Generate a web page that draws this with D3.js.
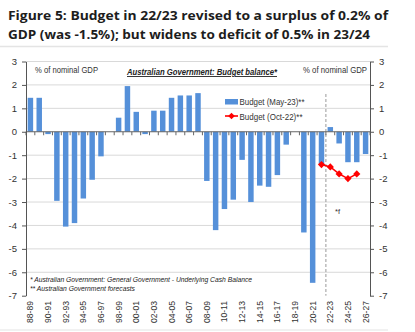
<!DOCTYPE html>
<html>
<head>
<meta charset="utf-8">
<script src="https://cdn.jsdelivr.net/npm/d3@7"></script>
<style>
  html, body { margin: 0; padding: 0; background: #fff; }
  svg { display: block; }
  text { font-family: "Liberation Sans", Arial, sans-serif; fill: #222; }
</style>
</head>
<body>
<svg id="chart" width="415" height="332"></svg>
<script>
// Financial years shown on the category axis
const years = ["88-89","89-90","90-91","91-92","92-93","93-94","94-95","95-96","96-97","97-98",
               "98-99","99-00","00-01","01-02","02-03","03-04","04-05","05-06","06-07","07-08",
               "08-09","09-10","10-11","11-12","12-13","13-14","14-15","15-16","16-17","17-18",
               "18-19","19-20","20-21","21-22","22-23","23-24","24-25","25-26","26-27"];

// Underlying cash balance, % of nominal GDP (May-23 budget, outcomes + forecasts)
const budgetMay23 = [1.45, 1.45, -0.1, -2.95, -4.05, -3.9, -2.85, -2.05, -1.05, 0.0,
                     0.6, 1.95, 0.85, -0.1, 0.9, 0.9, 1.45, 1.55, 1.55, 1.65,
                     -2.1, -4.2, -3.3, -2.9, -1.2, -3.0, -2.3, -2.35, -1.85, -0.55,
                     0.0, -4.3, -6.45, -1.4, 0.2, -0.5, -1.3, -1.3, -0.95];

// Oct-22 budget path
const oct22Years = ["21-22","22-23","23-24","24-25","25-26"];
const budgetOct22 = [-1.4, -1.5, -1.8, -2.0, -1.8];

const yTicks = [-7, -6, -5, -4, -3, -2, -1, 0, 1, 2, 3];
const gridTicks = [-6, -5, -4, -3, -2, -1, 1, 2, 3];

const svg = d3.select("#chart");
const plotLeft = 26, plotRight = 370, plotTop = 61.5, plotBottom = 295.7;

const x = d3.scaleBand().domain(years).range([plotLeft, plotRight]).paddingInner(0.38).paddingOuter(0.19);
const y = d3.scaleLinear().domain([-7, 3]).range([plotBottom, plotTop]);
const cx = d => x(d) + x.bandwidth() / 2;

// Title
const title = svg.append("g").attr("font-weight", "bold");
title.append("text").attr("x", 8).attr("y", 20)
  .style("font-family", "'Open Sans', 'Noto Sans', sans-serif")
  .attr("font-size", 13.2).attr("textLength", 380).attr("lengthAdjust", "spacingAndGlyphs")
  .style("fill", "#1d1d1d")
  .text("Figure 5: Budget in 22/23 revised to a surplus of 0.2% of");
title.append("text").attr("x", 8).attr("y", 38.5)
  .style("font-family", "'Open Sans', 'Noto Sans', sans-serif")
  .attr("font-size", 13.2).attr("textLength", 362).attr("lengthAdjust", "spacingAndGlyphs")
  .style("fill", "#1d1d1d")
  .text("GDP (was -1.5%); but widens to deficit of 0.5% in 23/24");
svg.append("line").attr("x1", 0).attr("x2", 388).attr("y1", 46.5).attr("y2", 46.5)
  .attr("stroke", "#e4e4e4").attr("stroke-width", 1.5);
svg.append("line").attr("x1", 0).attr("x2", 388).attr("y1", 330).attr("y2", 330)
  .attr("stroke", "#ececec").attr("stroke-width", 1.5);

// Gridlines
svg.append("g").selectAll("line").data(gridTicks).join("line")
  .attr("x1", plotLeft).attr("x2", plotRight)
  .attr("y1", d => y(d)).attr("y2", d => y(d))
  .attr("stroke", "#d9d9d9").attr("stroke-width", 1);

// Bars
svg.append("g").selectAll("rect").data(years.map((k, i) => ({k, v: budgetMay23[i]})))
  .join("rect")
  .attr("x", d => x(d.k))
  .attr("width", x.bandwidth())
  .attr("y", d => y(Math.max(0, d.v)))
  .attr("height", d => Math.abs(y(d.v) - y(0)))
  .attr("fill", "#5590d9");

// Forecast divider
const divX = x("22-23") - x.step() * 0.19;
svg.append("line")
  .attr("x1", divX).attr("x2", divX)
  .attr("y1", 94).attr("y2", plotBottom)
  .attr("stroke", "#9a9a9a").attr("stroke-width", 1).attr("stroke-dasharray", "3,2");

// Zero line with category ticks
svg.append("line").attr("x1", plotLeft).attr("x2", plotRight).attr("y1", y(0)).attr("y2", y(0))
  .attr("stroke", "#666").attr("stroke-width", 1);
svg.append("g").selectAll("line").data(d3.range(years.length + 1)).join("line")
  .attr("x1", i => plotLeft + i * x.step()).attr("x2", i => plotLeft + i * x.step())
  .attr("y1", y(0)).attr("y2", y(0) + 3.5)
  .attr("stroke", "#666").attr("stroke-width", 1);

// Oct-22 line
const line = d3.line().x(d => cx(d.k)).y(d => y(d.v));
const octData = oct22Years.map((k, i) => ({k, v: budgetOct22[i]}));
svg.append("path").datum(octData).attr("d", line)
  .attr("fill", "none").attr("stroke", "#ff0000").attr("stroke-width", 1.6);
svg.append("g").selectAll("path").data(octData).join("path")
  .attr("d", d3.symbol().type(d3.symbolSquare).size(26)())
  .attr("transform", d => `translate(${cx(d.k)},${y(d.v)}) rotate(45)`)
  .attr("fill", "#ff0000");

// Axes
const axisStyle = g => {
  g.select(".domain").attr("stroke", "#555");
  g.selectAll(".tick line").attr("stroke", "#555");
  g.selectAll(".tick text").attr("font-size", 9.5).style("fill", "#333")
    .style("font-family", "'Liberation Sans', Arial, sans-serif");
};
svg.append("g").attr("transform", `translate(${plotLeft},0)`)
  .call(d3.axisLeft(y).tickValues(yTicks).tickSize(4).tickSizeOuter(0).tickPadding(5).tickFormat(d => String(d)))
  .call(axisStyle);
svg.append("g").attr("transform", `translate(${plotRight},0)`)
  .call(d3.axisRight(y).tickValues(yTicks).tickSize(4).tickSizeOuter(0).tickPadding(5).tickFormat(d => String(d)))
  .call(axisStyle);

// Category labels, every second year
svg.append("g").selectAll("text").data(years.filter((d, i) => i % 2 === 0)).join("text")
  .attr("transform", d => `translate(${cx(d) + 3},301) rotate(-90)`)
  .attr("text-anchor", "end")
  .attr("font-size", 8.6).style("fill", "#333")
  .text(d => d);

// Annotations
svg.append("text").attr("x", 35).attr("y", 72.5).attr("font-size", 9).style("fill", "#333")
  .attr("textLength", 63).attr("lengthAdjust", "spacingAndGlyphs").text("% of nominal GDP");
svg.append("text").attr("x", 303).attr("y", 72.5).attr("font-size", 9).style("fill", "#333")
  .attr("textLength", 64).attr("lengthAdjust", "spacingAndGlyphs").text("% of nominal GDP");
svg.append("text").attr("x", 127).attr("y", 75).attr("font-size", 9)
  .attr("font-style", "italic").attr("font-weight", "bold")
  .attr("textLength", 150).attr("lengthAdjust", "spacingAndGlyphs")
  .attr("text-decoration", "underline").style("fill", "#222")
  .text("Australian Government: Budget balance*");

// Legend
svg.append("rect").attr("x", 225).attr("y", 99).attr("width", 13).attr("height", 5.5).attr("fill", "#5590d9");
svg.append("text").attr("x", 239.5).attr("y", 105).attr("font-size", 9).style("fill", "#333")
  .attr("textLength", 65).attr("lengthAdjust", "spacingAndGlyphs").text("Budget (May-23)**");
svg.append("line").attr("x1", 225).attr("x2", 238).attr("y1", 116).attr("y2", 116)
  .attr("stroke", "#ff0000").attr("stroke-width", 1.6);
svg.append("path").attr("d", d3.symbol().type(d3.symbolSquare).size(22)())
  .attr("transform", "translate(231.5,116) rotate(45)").attr("fill", "#ff0000");
svg.append("text").attr("x", 239.5).attr("y", 119.5).attr("font-size", 9).style("fill", "#333")
  .attr("textLength", 63).attr("lengthAdjust", "spacingAndGlyphs").text("Budget (Oct-22)**");

// Forecast marker
svg.append("text").attr("x", 335).attr("y", 214).attr("font-size", 7.5).style("fill", "#333").text("*f");

// Footnotes
svg.append("text").attr("x", 30).attr("y", 281.5).attr("font-size", 8).attr("font-style", "italic")
  .attr("textLength", 222).attr("lengthAdjust", "spacingAndGlyphs").style("fill", "#222")
  .text("* Australian Government: General Government - Underlying Cash Balance");
svg.append("text").attr("x", 30).attr("y", 291).attr("font-size", 8).attr("font-style", "italic")
  .attr("textLength", 105).attr("lengthAdjust", "spacingAndGlyphs").style("fill", "#222")
  .text("** Australian Government forecasts");
</script>
</body>
</html>
